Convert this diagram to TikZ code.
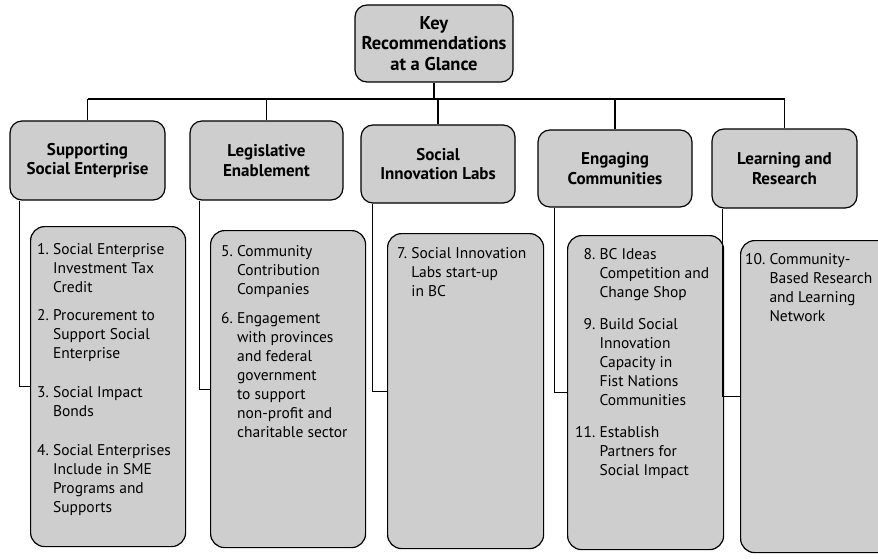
\documentclass[tikz,border=0pt]{standalone}
\usepackage{fontspec}
\setmainfont{PT Sans}
\usetikzlibrary{positioning}
\definecolor{ScanGray}{RGB}{206,206,206}
\newcommand{\reclist}[1]{\begin{tabular}{@{}r@{\ }l@{}}#1\end{tabular}}

\begin{document}
\begin{tikzpicture}[x=1pt,y=-1pt,
rbox/.style={rectangle,rounded corners=12pt,draw=black,fill=ScanGray,line width=1.2pt,inner sep=0pt},
head/.style={rbox,minimum width=155pt,minimum height=79pt,align=center,font=\fontsize{17}{19.5}\selectfont\bfseries},
recbox/.style={rbox,rounded corners=14pt,minimum width=156pt,anchor=north west},
rectext/.style={anchor=north west,inner sep=0pt,align=left,font=\fontsize{15.5}{19}\selectfont},
link/.style={line width=1.2pt,draw=black}
]
\useasboundingbox (0,0) rectangle (878,559);
% top of the tree
\node[head,minimum width=158pt,minimum height=77pt,font=\fontsize{18.5}{20.5}\selectfont\bfseries] (key) at (434,43.5) {Key\\Recommendations\\at a Glance};
\node[head] (c1) at (87.5,160.5) {Supporting\\Social Enterprise};
\node[head,minimum width=153pt] (c2) at (266.5,160.5) {Legislative\\Enablement};
\node[head,minimum width=154pt,minimum height=78pt] (c3) at (438,164) {Social\\Innovation Labs};
\node[head,minimum width=154pt,minimum height=77pt] (c4) at (615,168.5) {Engaging\\Communities};
\node[head,minimum width=145pt] (c5) at (784.5,168.5) {Learning and\\Research};
\coordinate (bus) at (437,99);
\draw[link] (key.south) -- (key.south |- bus);
\draw[link] (c1.north |- bus) -- (c5.north |- bus);
\foreach \n in {c1,c2,c3,c4,c5} \draw[link] (\n.north) -- (\n.north |- bus);
% recommendation boxes
\node[recbox,minimum width=155pt,minimum height=320pt] (r1) at (30,226) {};
\node[recbox,minimum width=155pt,minimum height=317pt] (r2) at (210,230) {};
\node[recbox,minimum height=315pt] (r3) at (387,233) {};
\node[recbox,minimum height=314pt] (r4) at (567,235) {};
\node[recbox,minimum height=312pt] (r5) at (740,240) {};
\node[rectext,below right=15pt and 7pt of r1.north west] (t1) {\reclist{1. & Social Enterprise\\ & Investment Tax\\ & Credit\\[9pt]
  2. & Procurement to\\ & Support Social\\ & Enterprise\\[20pt]
  3. & Social Impact\\ & Bonds\\[20pt]
  4. & Social Enterprises\\ & Include in SME\\ & Programs and\\ & Supports}};
\node[rectext,below right=13pt and 11pt of r2.north west] (t2) {\reclist{5. & Community\\ & Contribution\\ & Companies\\[10pt]
  6. & Engagement\\ & with provinces\\ & and federal\\ & government\\ & to support\\ & non-profit and\\ & charitable sector}};
\node[rectext,below right=12pt and 10pt of r3.north west] (t3) {\reclist{7. & Social Innovation\\ & Labs start-up\\ & in BC}};
\node[rectext,below right=11pt and 8pt of r4.north west] (t4) {\reclist{8. & BC Ideas\\ & Competition and\\ & Change Shop\\[13pt]
  9. & Build Social\\ & Innovation\\ & Capacity in\\ & Fist Nations\\ & Communities\\[13pt]
  11. & Establish\\ & Partners for\\ & Social Impact}};
\node[rectext,below right=11pt and 5pt of r5.north west] (t5) {\reclist{10. & Community-\\ & Based Research\\ & and Learning\\ & Network}};
% elbows from headings
\draw[link] ([xshift=10pt]c1.south west) |- (r1.west);
\draw[link] ([xshift=10pt]c2.south west) |- (r2.west);
\draw[link] ([xshift=12pt]c3.south west) |- (r3.west);
\draw[link] ([xshift=17pt]c4.south west) |- (r4.west);
\draw[link] ([xshift=11pt]c5.south west) |- (r5.west);
\end{tikzpicture}
\end{document}
